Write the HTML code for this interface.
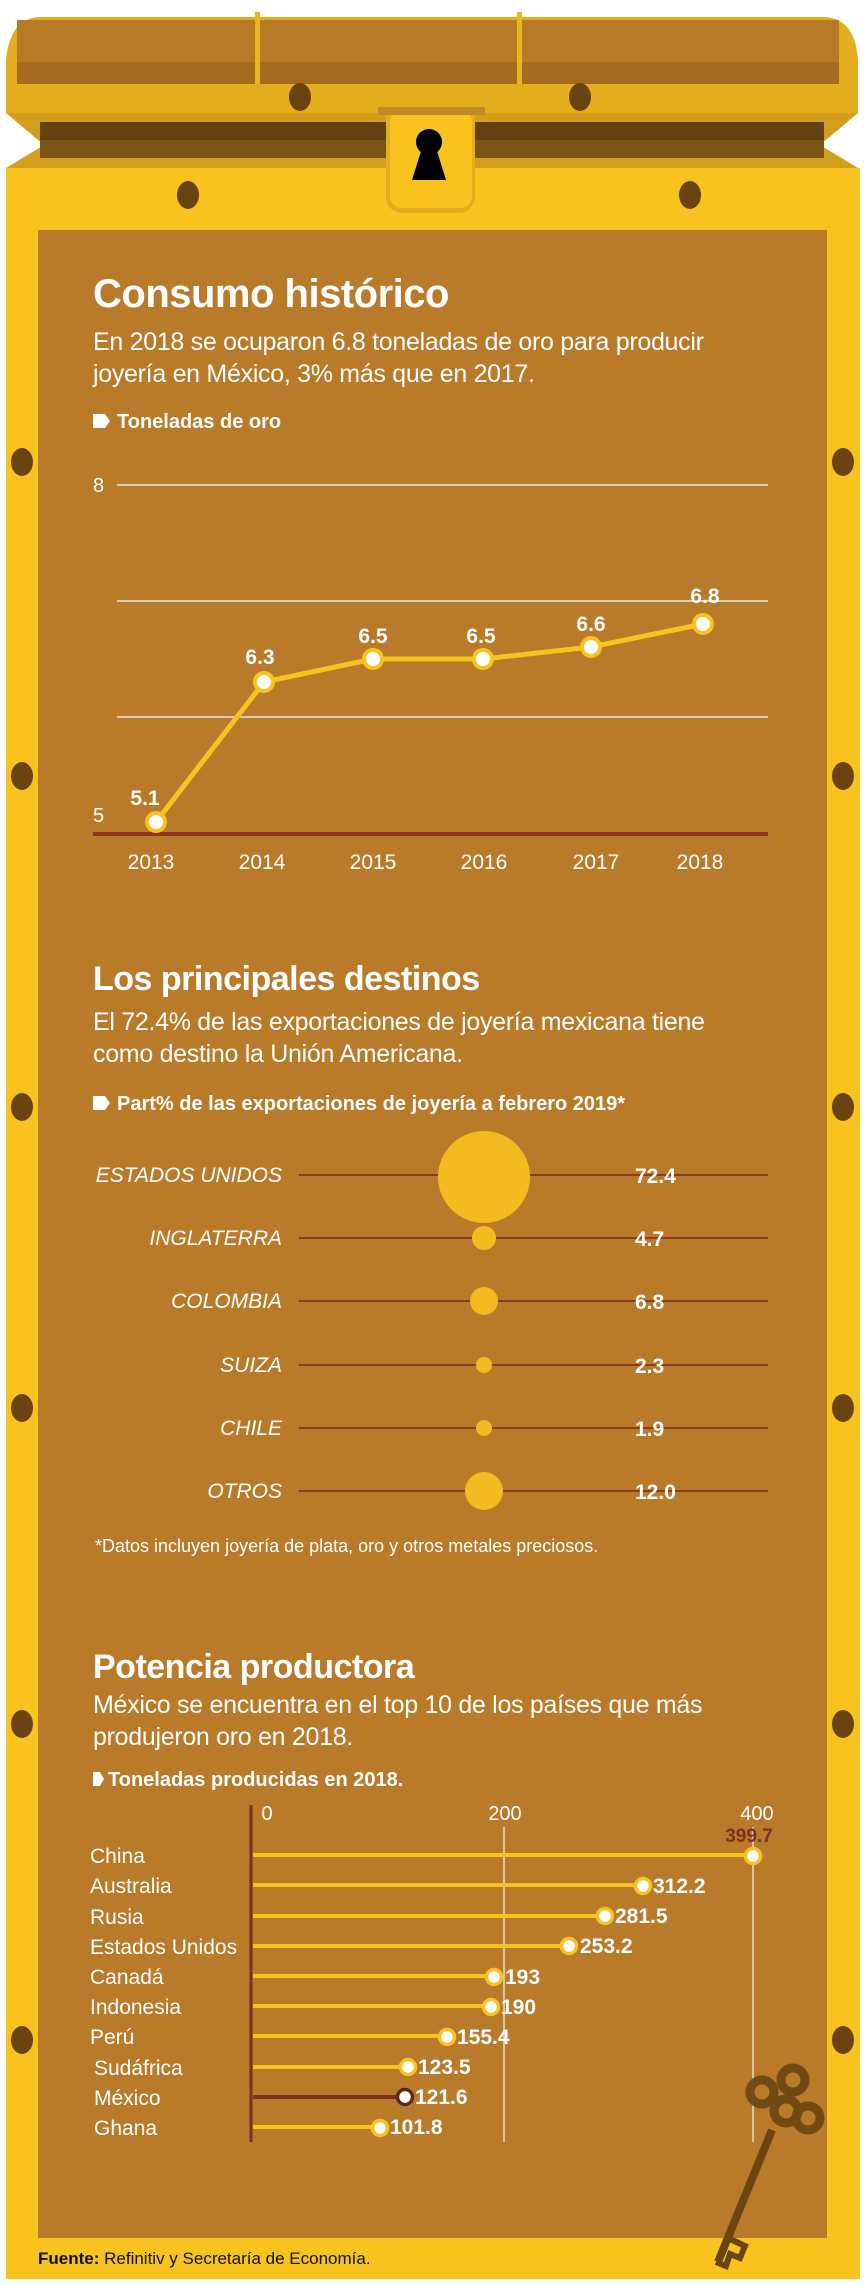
<!DOCTYPE html>
<html><head><meta charset="utf-8"><style>
html,body{margin:0;padding:0;background:#fff}
body{width:864px;height:2285px;position:relative;overflow:hidden;font-family:"Liberation Sans",sans-serif}
svg{position:absolute;left:0;top:0}
</style></head><body>
<svg width="864" height="2285" viewBox="0 0 864 2285" font-family="Liberation Sans, sans-serif">
<rect x="6" y="168" width="854" height="2111" fill="#f8c31f"/>
<path d="M6 60 Q10 18 40 17 L824 17 Q855 18 858 60 L858 113 L6 113 Z" fill="#e3ad1d"/>
<rect x="17" y="20" width="822" height="64" fill="#b97a28"/>
<rect x="17" y="62" width="822" height="22" fill="#a56c20"/>
<rect x="255" y="12" width="5" height="72" fill="#e9b520"/>
<rect x="517" y="12" width="5" height="72" fill="#e9b520"/>
<path d="M6 113 L858 113 L820 145 L858 168 L6 168 L44 145 Z" fill="#d29e1c"/>
<rect x="40" y="122" width="784" height="36" fill="#644310"/>
<path d="M40 140 L824 140 L824 158 L40 158 Z" fill="#7a5414"/>
<g fill="#6a4410">
<ellipse cx="300" cy="97" rx="11" ry="14"/><ellipse cx="580" cy="97" rx="11" ry="14"/>
<ellipse cx="188" cy="195" rx="11" ry="14"/><ellipse cx="690" cy="195" rx="11" ry="14"/>
<ellipse cx="22" cy="462" rx="11" ry="14"/><ellipse cx="843" cy="462" rx="11" ry="14"/>
<ellipse cx="22" cy="776" rx="11" ry="14"/><ellipse cx="843" cy="776" rx="11" ry="14"/>
<ellipse cx="22" cy="1107" rx="11" ry="14"/><ellipse cx="843" cy="1107" rx="11" ry="14"/>
<ellipse cx="22" cy="1408" rx="11" ry="14"/><ellipse cx="843" cy="1408" rx="11" ry="14"/>
<ellipse cx="22" cy="1724" rx="11" ry="14"/><ellipse cx="843" cy="1724" rx="11" ry="14"/>
<ellipse cx="22" cy="2040" rx="11" ry="14"/><ellipse cx="843" cy="2040" rx="11" ry="14"/>
</g>
<rect x="386" y="88" width="89" height="125" rx="16" fill="#e3ad1d"/>
<rect x="390" y="110" width="82" height="98" rx="12" fill="#f8c31f"/>
<rect x="378" y="107" width="107" height="8" fill="#c18a28"/>
<circle cx="429" cy="142" r="13" fill="#000"/>
<path d="M423 145 L435 145 L446 180 L412 180 Z" fill="#000"/>
<rect x="38" y="230" width="789" height="2008" fill="#b97a29"/>

<text x="93" y="307" font-size="40" font-weight="bold" fill="#fff" letter-spacing="-0.5">Consumo histórico</text>
<text x="93" y="350" font-size="25" fill="#fff" letter-spacing="-0.3">En 2018 se ocuparon 6.8 toneladas de oro para producir</text>
<text x="93" y="382" font-size="25" fill="#fff" letter-spacing="-0.3">joyería en México, 3% más que en 2017.</text>
<path d="M93 414 L105 414 L110 421 L105 428 L93 428 Z" fill="#fff"/>
<text x="117" y="428" font-size="20" font-weight="bold" fill="#fff">Toneladas de oro</text>
<g stroke="#d8cdbd" stroke-width="2"><line x1="117" y1="485" x2="768" y2="485"/><line x1="117" y1="601" x2="768" y2="601"/><line x1="117" y1="717" x2="768" y2="717"/></g>
<text x="93" y="492" font-size="20" fill="#fff">8</text>
<text x="93" y="822" font-size="20" fill="#fff">5</text>
<line x1="93" y1="834" x2="768" y2="834" stroke="#8b3324" stroke-width="4"/>
<polyline points="156,822 264,682 373,659 483,659 591,647 703,624" fill="none" stroke="#f8c31f" stroke-width="5"/>
<g fill="#fff" stroke="#f8c31f" stroke-width="4">
<circle cx="156" cy="822" r="9"/><circle cx="264" cy="682" r="9"/><circle cx="373" cy="659" r="9"/><circle cx="483" cy="659" r="9"/><circle cx="591" cy="647" r="9"/><circle cx="703" cy="624" r="9"/></g>
<g font-size="21" font-weight="bold" fill="#fff" text-anchor="middle">
<text x="145" y="805">5.1</text><text x="260" y="664">6.3</text><text x="373" y="643">6.5</text><text x="481" y="643">6.5</text><text x="591" y="631">6.6</text><text x="705" y="603">6.8</text></g>
<g font-size="21" fill="#fff" text-anchor="middle">
<text x="151" y="869">2013</text><text x="262" y="869">2014</text><text x="373" y="869">2015</text><text x="484" y="869">2016</text><text x="596" y="869">2017</text><text x="700" y="869">2018</text></g>

<text x="93" y="990" font-size="34" font-weight="bold" fill="#fff" letter-spacing="-0.5">Los principales destinos</text>
<text x="93" y="1030" font-size="25" fill="#fff" letter-spacing="-0.3">El 72.4% de las exportaciones de joyería mexicana tiene</text>
<text x="93" y="1062" font-size="25" fill="#fff" letter-spacing="-0.3">como destino la Unión Americana.</text>
<path d="M93 1096 L105 1096 L110 1103 L105 1110 L93 1110 Z" fill="#fff"/>
<text x="117" y="1110" font-size="20" font-weight="bold" fill="#fff">Part% de las exportaciones de joyería a febrero 2019*</text>
<g stroke="#8b3a24" stroke-width="2">
<line x1="299" y1="1175" x2="768" y2="1175"/><line x1="299" y1="1238" x2="768" y2="1238"/><line x1="299" y1="1301" x2="768" y2="1301"/><line x1="299" y1="1365" x2="768" y2="1365"/><line x1="299" y1="1428" x2="768" y2="1428"/><line x1="299" y1="1491" x2="768" y2="1491"/></g>
<g fill="#f4bb20">
<circle cx="484" cy="1177" r="46"/><circle cx="484" cy="1238" r="12"/><circle cx="484" cy="1301" r="14"/><circle cx="484" cy="1365" r="8"/><circle cx="484" cy="1428" r="8"/><circle cx="484" cy="1491" r="19"/></g>
<g font-size="21" font-style="italic" fill="#fff" text-anchor="end">
<text x="282" y="1182">ESTADOS UNIDOS</text><text x="282" y="1245">INGLATERRA</text><text x="282" y="1308">COLOMBIA</text><text x="282" y="1372">SUIZA</text><text x="282" y="1435">CHILE</text><text x="282" y="1498">OTROS</text></g>
<g font-size="21" font-weight="bold" fill="#fff">
<text x="635" y="1183">72.4</text><text x="635" y="1246">4.7</text><text x="635" y="1309">6.8</text><text x="635" y="1373">2.3</text><text x="635" y="1436">1.9</text><text x="635" y="1499">12.0</text></g>
<text x="95" y="1552" font-size="18" fill="#fff">*Datos incluyen joyería de plata, oro y otros metales preciosos.</text>

<text x="93" y="1678" font-size="34" font-weight="bold" fill="#fff" letter-spacing="-0.5">Potencia productora</text>
<text x="93" y="1713" font-size="25" fill="#fff" letter-spacing="-0.3">México se encuentra en el top 10 de los países que más</text>
<text x="93" y="1745" font-size="25" fill="#fff" letter-spacing="-0.3">produjeron oro en 2018.</text>
<path d="M93 1772 L100 1772 L104 1779 L100 1786 L93 1786 Z" fill="#fff"/>
<text x="108" y="1786" font-size="20" font-weight="bold" fill="#fff">Toneladas producidas en 2018.</text>
<g stroke="#e8dccb" stroke-width="1.5"><line x1="504" y1="1827" x2="504" y2="2142"/><line x1="753" y1="1827" x2="753" y2="2142"/></g>
<g font-size="20" fill="#fff" text-anchor="middle"><text x="267" y="1820">0</text><text x="505" y="1820">200</text><text x="757" y="1820">400</text></g>
<text x="749" y="1842" font-size="19" font-weight="bold" fill="#7f2e22" text-anchor="middle">399.7</text>
<g stroke="#f8c31f" stroke-width="4">
<line x1="253" y1="1855" x2="753" y2="1855"/><line x1="253" y1="1885" x2="643" y2="1885"/><line x1="253" y1="1916" x2="605" y2="1916"/><line x1="253" y1="1946" x2="569" y2="1946"/><line x1="253" y1="1976" x2="494" y2="1976"/><line x1="253" y1="2006" x2="491" y2="2006"/><line x1="253" y1="2036" x2="447" y2="2036"/><line x1="253" y1="2067" x2="408" y2="2067"/><line x1="253" y1="2127" x2="380" y2="2127"/></g>
<line x1="253" y1="2097" x2="405" y2="2097" stroke="#7f2e22" stroke-width="4"/>
<line x1="251" y1="1805" x2="251" y2="2142" stroke="#7f2e22" stroke-width="3"/>
<g fill="#fff" stroke="#f8c31f" stroke-width="3.5">
<circle cx="753" cy="1856" r="7.5"/><circle cx="643" cy="1886" r="7.5"/><circle cx="605" cy="1916" r="7.5"/><circle cx="569" cy="1946" r="7.5"/><circle cx="494" cy="1977" r="7.5"/><circle cx="491" cy="2007" r="7.5"/><circle cx="447" cy="2037" r="7.5"/><circle cx="408" cy="2067" r="7.5"/><circle cx="380" cy="2128" r="7.5"/></g>
<circle cx="405" cy="2097" r="7.5" fill="#fff" stroke="#5a2a1c" stroke-width="3.5"/>
<g font-size="21" fill="#fff">
<text x="90" y="1863">China</text><text x="90" y="1893">Australia</text><text x="90" y="1924">Rusia</text><text x="90" y="1954">Estados Unidos</text><text x="90" y="1984">Canadá</text><text x="90" y="2014">Indonesia</text><text x="90" y="2044">Perú</text><text x="94" y="2075">Sudáfrica</text><text x="94" y="2105">México</text><text x="94" y="2135">Ghana</text></g>
<g font-size="21" font-weight="bold" fill="#fff">
<text x="653" y="1893">312.2</text><text x="615" y="1923">281.5</text><text x="580" y="1953">253.2</text><text x="505" y="1984">193</text><text x="501" y="2014">190</text><text x="457" y="2044">155.4</text><text x="418" y="2074">123.5</text><text x="415" y="2104">121.6</text><text x="390" y="2134">101.8</text></g>

<g fill="none" stroke="#6b4512" stroke-width="9" opacity="0.92">
<circle cx="762" cy="2092" r="12"/><circle cx="793" cy="2080" r="12"/><circle cx="786" cy="2111" r="12"/><circle cx="808" cy="2118" r="12"/>
</g>
<path d="M772 2130 L718 2262" stroke="#6b4512" stroke-width="8" fill="none"/>
<path d="M728 2238 L745 2246 L740 2258 L730 2254 L726 2266 L716 2262" stroke="#6b4512" stroke-width="6" fill="none"/>
<text x="38" y="2264" font-size="17" fill="#111"><tspan font-weight="bold">Fuente:</tspan> Refinitiv y Secretaría de Economía.</text>
</svg>
</body></html>
